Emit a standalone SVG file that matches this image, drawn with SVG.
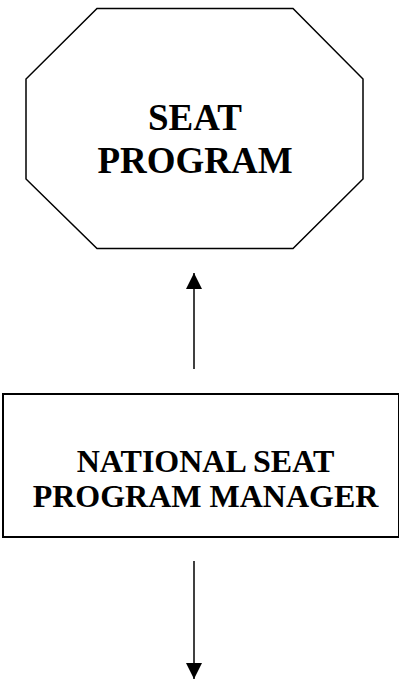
<svg xmlns="http://www.w3.org/2000/svg" width="399" height="679" viewBox="0 0 399 679">
  <style>
    .shape { fill: #ffffff; stroke: #000000; }
    .label { font-family: "Liberation Serif", "Times New Roman", serif; font-weight: bold; fill: #000000; text-anchor: middle; }
    .big { font-size: 37px; }
    .mid { font-size: 32px; }
    .conn { stroke: #000000; stroke-width: 1.5; fill: none; }
  </style>
  <defs>
    <marker id="arrow" viewBox="0 0 16 16" refX="16" refY="8" markerWidth="16" markerHeight="16" markerUnits="userSpaceOnUse" orient="auto">
      <path d="M0,0 L16,8 L0,16 Z" fill="#000000"/>
    </marker>
  </defs>
  <rect width="399" height="679" fill="#ffffff"/>

  <g id="seat-program">
    <polygon class="shape" stroke-width="1.5" points="97,8.5 293,8.5 363,79 363,179 293,248.5 97,248.5 26,179 26,79"/>
    <text class="label big" x="195" y="130">SEAT</text>
    <text class="label big" x="195" y="173">PROGRAM</text>
  </g>

  <g id="national-manager">
    <rect class="shape" stroke-width="2" x="3" y="394" width="396" height="143"/>
    <text class="label mid" x="205.5" y="472">NATIONAL SEAT</text>
    <text class="label mid" x="205.5" y="507">PROGRAM MANAGER</text>
  </g>

  <g id="connectors">
    <line class="conn" x1="194" y1="369" x2="194" y2="273" marker-end="url(#arrow)"/>
    <line class="conn" x1="194" y1="561" x2="194" y2="679" marker-end="url(#arrow)"/>
  </g>
</svg>
